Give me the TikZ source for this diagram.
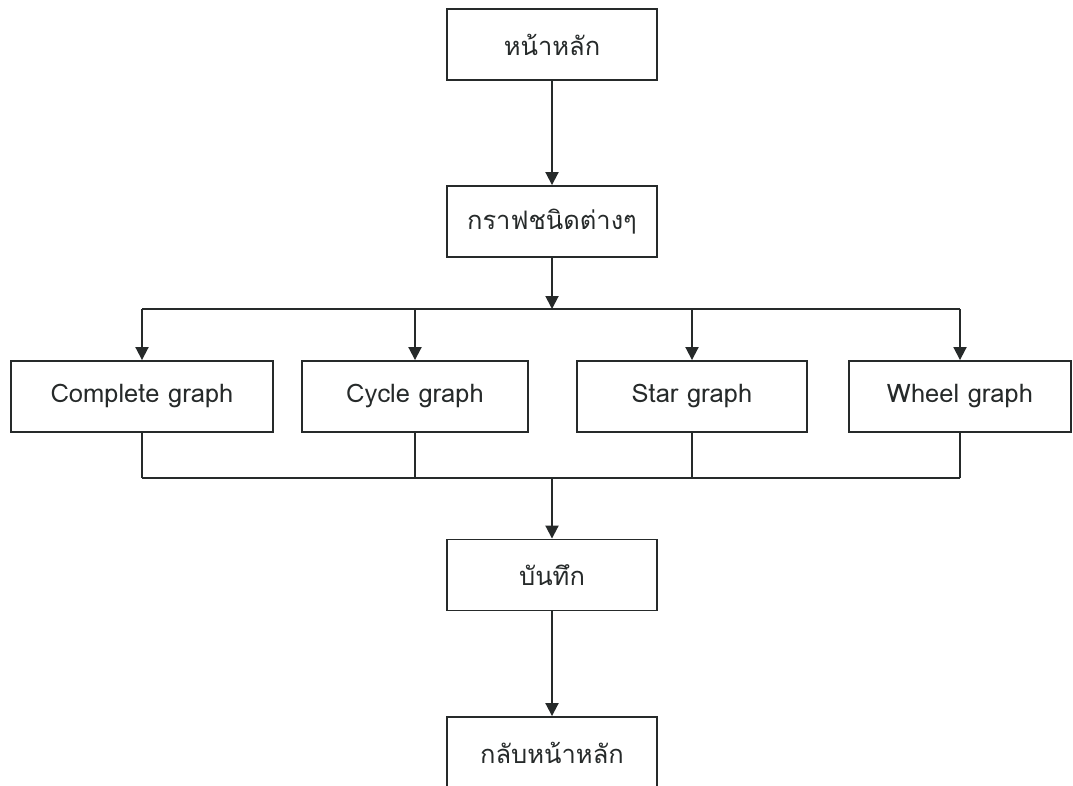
\documentclass[tikz,border=0pt]{standalone}
\usepackage{fontspec}
\setmainfont[Script=Thai]{Loma}
\usepackage{tikz}
\usetikzlibrary{
    arrows.meta,
    positioning,
    calc
}
\definecolor{InkGray}{RGB}{38,42,42}

\begin{document}
\begin{tikzpicture}[
    >={Triangle[length=13pt,width=13pt]},
    x=1pt, y=-1pt,
    line width=1.9pt,
    draw=InkGray,
    box/.style={draw, InkGray, line width=1.9pt, minimum height=71pt,
        inner sep=0pt, font=\fontsize{25.5}{30}\selectfont}
]

\clip (0,0) rectangle (1073,785);
\fill[white] (0,0) rectangle (1073,785);

\node[box, minimum width=210pt] (home)  at (552,44.5)  {หน้าหลัก};
\node[box, minimum width=210pt] (types) at (552,221.5) {กราฟชนิดต่างๆ};

\node[box, minimum width=262pt] (complete) at (142,396.5) {Complete graph};
\node[box, minimum width=226pt] (cycle)    at (415,396.5) {Cycle graph};
\node[box, minimum width=230pt] (star)     at (692,396.5) {Star graph};
\node[box, minimum width=222pt] (wheel)    at (960,396.5) {Wheel graph};

\node[box, minimum width=210pt] (save) at (552,575) {บันทึก};
\node[box, minimum width=210pt, minimum height=72pt] (back) at (552,753) {กลับหน้าหลัก};

\coordinate (splitT) at (552,309);
\coordinate (splitB) at (552,478);

\draw[->, InkGray] (home) -- (types);
\draw[->, InkGray] (types) -- (splitT);

\draw[InkGray] (complete.north |- splitT) -- (wheel.north |- splitT);
\foreach \g in {complete,cycle,star,wheel}
    \draw[->, InkGray] (\g.north |- splitT) -- (\g);

\foreach \g in {complete,cycle,star,wheel}
    \draw[InkGray] (\g) -- (\g.south |- splitB);
\draw[InkGray] (complete.south |- splitB) -- (wheel.south |- splitB);

\draw[->, InkGray] (splitB) -- (save);
\draw[->, InkGray] (save) -- (back);

\end{tikzpicture}
\end{document}
